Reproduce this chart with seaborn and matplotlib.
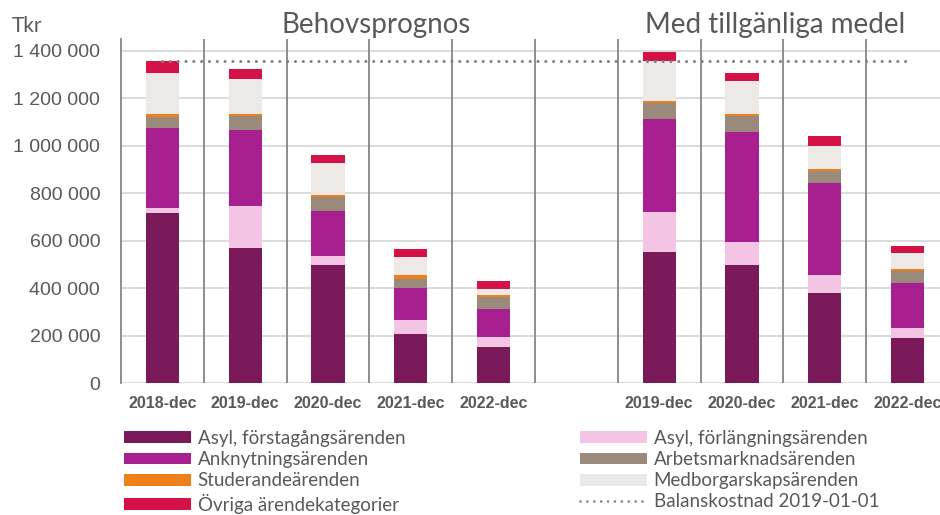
import numpy as np
import matplotlib
matplotlib.use("Agg")
import matplotlib.pyplot as plt
from matplotlib.patches import Patch
from matplotlib.lines import Line2D
from matplotlib.ticker import FuncFormatter
import seaborn as sns

# %% data
slots = ['B2018', 'B2019', 'B2020', 'B2021', 'B2022', 'gap', 'M2019', 'M2020', 'M2021', 'M2022']
tick_labels = ['2018-dec', '2019-dec', '2020-dec', '2021-dec', '2022-dec', '',
               '2019-dec', '2020-dec', '2021-dec', '2022-dec']
bar_slots = ['B2018', 'B2019', 'B2020', 'B2021', 'B2022', 'M2019', 'M2020', 'M2021', 'M2022']

asyl_forst = [718000, 570000, 497000, 208000, 150000, 554000, 497000, 380000, 191000]
asyl_forl = [19000, 174000, 40000, 58000, 42000, 166000, 99000, 75000, 42000]
anknytning = [338000, 323000, 190000, 133000, 122000, 393000, 462000, 388000, 190000]
arbetsmarknad = [48000, 59000, 59000, 41000, 50000, 67000, 66000, 50000, 49000]
studerande = [10000, 7500, 7500, 15000, 7500, 8500, 8500, 8500, 8500]
medborgarskap = [174000, 149000, 133000, 76000, 25000, 168000, 141000, 99000, 67000]
ovriga = [49000, 41000, 34000, 32000, 35000, 37000, 32000, 41000, 32000]

balans = [1357000] * 10

layers = [
    ('Asyl, förstagångsärenden', asyl_forst, '#7B1A5A'),
    ('Asyl, förlängningsärenden', asyl_forl, '#F3C4E3'),
    ('Anknytningsärenden', anknytning, '#A8208F'),
    ('Arbetsmarknadsärenden', arbetsmarknad, '#998A7C'),
    ('Studerandeärenden', studerande, '#EE7F1A'),
    ('Medborgarskapsärenden', medborgarskap, '#ECE9E6'),
    ('Övriga ärendekategorier', ovriga, '#D51247'),
]

# %% figure
sns.set_style('white')
plt.rcParams['font.family'] = ['Liberation Sans', 'DejaVu Sans']
TXT = '#595959'
GRID = '#D9D9D9'
SEP = '#868686'
CAL = ['Lato', 'DejaVu Sans']

fig = plt.figure(figsize=(9.4, 5.15), dpi=100)
ax = fig.add_axes([121 / 940, 1 - 383 / 515, 828 / 940, 344 / 515])

cum = np.cumsum(np.array([l[1] for l in layers]), axis=0)
for i in range(len(layers) - 1, -1, -1):
    sns.barplot(x=bar_slots, y=cum[i], order=slots, color=layers[i][2],
                saturation=1, width=0.4, ax=ax, zorder=3, linewidth=0)

sns.pointplot(x=slots, y=balans, order=slots, color='#808080', markers='',
              errorbar=None, ax=ax, linestyle=(0, (0.01, 2.55)), linewidth=2.2,
              dash_capstyle='round', zorder=4)

ax.set_xlim(-0.5, 9.5)
ax.set_ylim(0, 1450000)
ax.set_xlabel('')
ax.set_ylabel('')

# horizontal grid
for v in range(0, 1400001, 200000):
    ax.axhline(v, color=GRID, lw=1.3, zorder=1)
# vertical separators
for b in np.arange(0.5, 9.5, 1.0):
    ax.axvline(b, color=SEP, lw=1.3, zorder=2)

for s in ['top', 'right', 'bottom']:
    ax.spines[s].set_visible(False)
ax.spines['left'].set_color(SEP)
ax.spines['left'].set_linewidth(1.3)

ax.set_xticks(np.arange(-0.5, 9.6, 1.0))
ax.set_xticklabels([])
ax.tick_params(axis='x', which='major', length=4, width=1.1, color=GRID)
ax.set_xticks(np.arange(10), minor=True)
ax.set_xticklabels(tick_labels, minor=True, fontweight='bold', fontsize=11.5, color=TXT)
ax.tick_params(axis='x', which='minor', length=0, pad=9)

ax.set_yticks(range(0, 1400001, 200000))
ax.yaxis.set_major_formatter(FuncFormatter(lambda v, p: f'{v:,.0f}'.replace(',', ' ')))
ax.tick_params(axis='y', length=0, pad=15, labelsize=14, labelcolor=TXT)

fig.text(12 / 940, 1 - 32 / 515, 'Tkr', fontsize=15, color=TXT, va='baseline', family=CAL)
fig.text(376 / 940, 1 - 33 / 515, 'Behovsprognos', fontsize=20, color=TXT,
         ha='center', va='baseline', family=CAL)
fig.text(775 / 940, 1 - 33 / 515, 'Med tillgänliga medel', fontsize=20, color=TXT,
         ha='center', va='baseline', family=CAL)

# legend, two columns placed separately
def patch(i):
    return Patch(facecolor=layers[i][2], edgecolor='none', label=layers[i][0])

col1 = [patch(0), patch(2), patch(4), patch(6)]
col2 = [patch(1), patch(3), patch(5),
        Line2D([], [], color='#808080', linestyle=(0, (0.01, 2.6)), linewidth=1.9,
               dash_capstyle='round', label='Balanskostnad 2019-01-01')]
leg_kw = dict(loc='upper left', frameon=False, handlelength=3.55,
              handleheight=0.6, handletextpad=0.37, labelspacing=0.22,
              borderaxespad=0, borderpad=0, labelcolor=TXT,
              prop={'family': CAL, 'size': 13.5})
fig.legend(handles=col1, bbox_to_anchor=(124 / 940, 1 - 430 / 515), **leg_kw)
fig.legend(handles=col2, bbox_to_anchor=(580 / 940, 1 - 430 / 515), **leg_kw)

fig.savefig('out.png', dpi=100)
